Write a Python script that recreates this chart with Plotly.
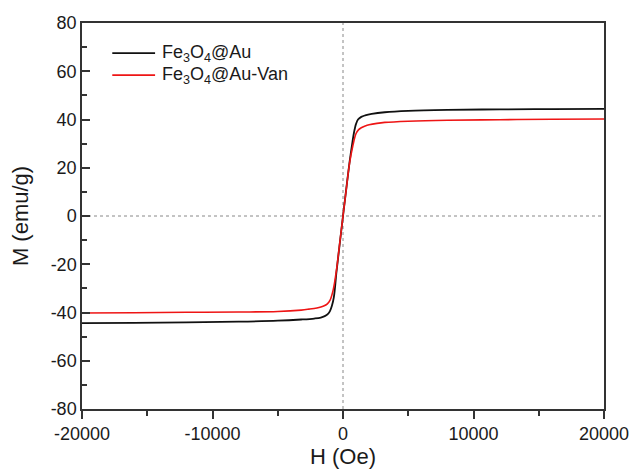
import plotly.graph_objects as go

# Magnetic hysteresis (M-H) loops measured at room temperature
h_au = [-20000, -16000, -12000, -8000, -5000, -3200, -2200, -1700, -1400, -1150, -1000,
        -850, -700, -500, -250, 0, 250, 500, 700, 850, 1000, 1150, 1400, 1700, 2200,
        3200, 5000, 8000, 12000, 16000, 20000]
m_au = [-44.4, -44.3, -44.1, -43.8, -43.4, -42.9, -42.5, -42.1, -41.5, -40.6, -39.4,
        -37.2, -33.6, -23.2, -11.5, 0.0, 11.2, 22.2, 29.8, 34.8, 38.2, 40.0, 41.1, 41.7,
        42.3, 43.0, 43.6, 44.0, 44.2, 44.3, 44.4]

h_van = [-20000, -16000, -12000, -8000, -5000, -3200, -2600, -2000, -1700, -1400, -1200,
         -1000, -750, -500, -250, 0, 250, 500, 750, 1000, 1200, 1400, 1700, 2000, 2600,
         3200, 5000, 8000, 12000, 16000, 20000]
m_van = [-40.2, -40.1, -39.9, -39.8, -39.6, -39.0, -38.6, -38.1, -37.7, -37.1, -36.4,
         -35.0, -30.6, -22.4, -11.2, 0.0, 11.0, 21.8, 29.0, 34.2, 35.8, 36.6, 37.3, 37.8,
         38.4, 38.8, 39.3, 39.7, 39.9, 40.1, 40.2]

series_names = ["Fe<sub>3</sub>O<sub>4</sub>@Au", "Fe<sub>3</sub>O<sub>4</sub>@Au-Van"]
series_colors = ["#111111", "#ee1515"]

x_ticks = [-20000, -10000, 0, 10000, 20000]
y_ticks = [-80, -60, -40, -20, 0, 20, 40, 60, 80]

FONT = "Arial, Liberation Sans, sans-serif"
AXIS_COLOR = "#333333"
TEXT_COLOR = "#1a1a1a"

fig = go.Figure()
for h, m, name, color, width in [(h_au, m_au, series_names[0], series_colors[0], 1.8),
                                 (h_van, m_van, series_names[1], series_colors[1], 1.6)]:
    fig.add_trace(go.Scatter(
        x=h, y=m, mode="lines", name=name, showlegend=False,
        line=dict(color=color, width=width, shape="spline", smoothing=1.0),
    ))

# dashed zero reference lines
fig.add_shape(type="line", xref="x", yref="paper", x0=0, x1=0, y0=0, y1=1,
              line=dict(color="#888888", width=1, dash="3px,3px"), layer="below")
fig.add_shape(type="line", xref="paper", yref="y", x0=0, x1=1, y0=0, y1=0,
              line=dict(color="#888888", width=1, dash="3px,3px"), layer="below")

# legend: line sample followed by the series label
legend_rows_y = [0.922, 0.865]
for name, color, ly in zip(series_names, series_colors, legend_rows_y):
    fig.add_shape(type="line", xref="paper", yref="paper", x0=0.058, x1=0.14, y0=ly, y1=ly,
                  line=dict(color=color, width=1.6))
    fig.add_annotation(xref="paper", yref="paper", x=0.149, y=ly, text=name,
                       xanchor="left", yanchor="middle", showarrow=False,
                       font=dict(size=18, family=FONT, color=TEXT_COLOR))

fig.update_layout(
    width=631, height=475,
    margin=dict(l=82, r=27, t=23, b=66),
    paper_bgcolor="white", plot_bgcolor="white",
    font=dict(family=FONT, size=18, color=TEXT_COLOR),
    showlegend=False,
)
fig.update_xaxes(
    range=[-20000, 20000], tickvals=x_ticks, ticktext=[str(v) for v in x_ticks],
    ticks="outside", ticklen=8, tickwidth=1.5, tickcolor=AXIS_COLOR,
    minor=dict(dtick=5000, ticks="outside", ticklen=5, tickwidth=1.5, tickcolor=AXIS_COLOR),
    showline=True, linecolor=AXIS_COLOR, linewidth=1.5, mirror=True,
    showgrid=False, zeroline=False, automargin=False,
    title=dict(text="H (Oe)", font=dict(size=22, family=FONT, color=TEXT_COLOR), standoff=4),
    tickfont=dict(size=18, family=FONT, color=TEXT_COLOR),
)
fig.update_yaxes(
    range=[-80, 80], tickvals=y_ticks, ticktext=[str(v) for v in y_ticks],
    ticks="inside", ticklen=8, tickwidth=1.5, tickcolor=AXIS_COLOR,
    minor=dict(dtick=10, ticks="inside", ticklen=5, tickwidth=1.5, tickcolor=AXIS_COLOR),
    showline=True, linecolor=AXIS_COLOR, linewidth=1.5, mirror=True,
    showgrid=False, zeroline=False, automargin=False,
    title=dict(text="M (emu/g)", font=dict(size=22, family=FONT, color=TEXT_COLOR), standoff=16),
    tickfont=dict(size=18, family=FONT, color=TEXT_COLOR),
)

fig.write_html("out.html")
